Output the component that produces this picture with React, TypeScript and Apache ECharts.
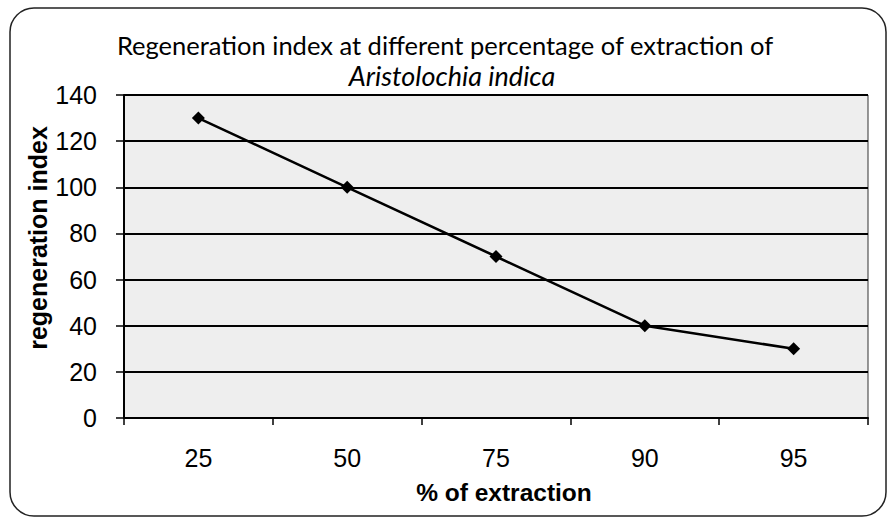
import React, { useEffect, useRef } from "react";
import * as echarts from "echarts";

const categories = ["25", "50", "75", "90", "95"];
const regenerationIndex = [130, 100, 70, 40, 30];
const titleLine1 = "Regeneration index at different percentage of extraction of";
const titleLine2 = "Aristolochia indica";
const xAxisName = "% of extraction";
const yAxisName = "regeneration index";

export default function App() {
  const ref = useRef<HTMLDivElement>(null);
  useEffect(() => {
    if (!ref.current) return;
    const chart = echarts.init(ref.current, null, { renderer: "svg" });
    chart.setOption({
      animation: false,
      backgroundColor: "#ffffff",
      graphic: [
        {
          type: "rect",
          shape: { x: 10, y: 8, width: 876, height: 508, r: 24 },
          style: { fill: "none", stroke: "#222", lineWidth: 1.5 },
          z: -1,
        },
        {
          type: "text",
          x: 445,
          y: 45,
          style: {
            text: titleLine1,
            fontFamily: "Lato",
            fontSize: 25.5,
            fill: "#000",
            align: "center",
            verticalAlign: "middle",
          },
        },
        {
          type: "text",
          x: 452,
          y: 75,
          style: {
            text: titleLine2,
            fontFamily: "Lato",
            fontStyle: "italic",
            fontSize: 27,
            fill: "#000",
            align: "center",
            verticalAlign: "middle",
          },
        },
        {
          type: "text",
          x: 504,
          y: 492,
          style: {
            text: xAxisName,
            fontFamily: "Liberation Sans",
            fontWeight: "bold",
            fontSize: 24.5,
            fill: "#000",
            align: "center",
            verticalAlign: "middle",
          },
        },
        {
          type: "text",
          x: 38,
          y: 238,
          rotation: Math.PI / 2,
          style: {
            text: yAxisName,
            fontFamily: "Liberation Sans",
            fontWeight: "bold",
            fontSize: 25,
            fill: "#000",
            align: "center",
            verticalAlign: "middle",
          },
        },
      ],
      grid: {
        left: 124,
        right: 21,
        top: 95,
        bottom: 100,
        show: true,
        backgroundColor: "#eeeeee",
        borderColor: "#333",
        borderWidth: 1,
      },
      xAxis: {
        type: "category",
        data: categories,
        boundaryGap: true,
        axisLine: { lineStyle: { color: "#000", width: 2 } },
        axisTick: { show: true, length: 7, lineStyle: { color: "#000", width: 1.5 } },
        axisLabel: {
          fontFamily: "Liberation Sans",
          fontSize: 25,
          color: "#000",
          margin: 27,
        },
      },
      yAxis: {
        type: "value",
        min: 0,
        max: 140,
        interval: 20,
        axisLine: { show: true, lineStyle: { color: "#000", width: 2 } },
        axisTick: { show: true, length: 8, lineStyle: { color: "#000", width: 1.5 } },
        axisLabel: {
          fontFamily: "Liberation Sans",
          fontSize: 25,
          color: "#000",
          margin: 27,
        },
        splitLine: { show: true, lineStyle: { color: "#000", width: 2 } },
      },
      series: [
        {
          type: "line",
          data: regenerationIndex,
          symbol: "diamond",
          symbolSize: 13,
          itemStyle: { color: "#000" },
          lineStyle: { color: "#000", width: 2.5 },
        },
      ],
    });
    return () => chart.dispose();
  }, []);
  return (
    <div
      ref={ref}
      style={{ position: "absolute", left: 0, top: 0, width: 889, height: 518 }}
    />
  );
}
